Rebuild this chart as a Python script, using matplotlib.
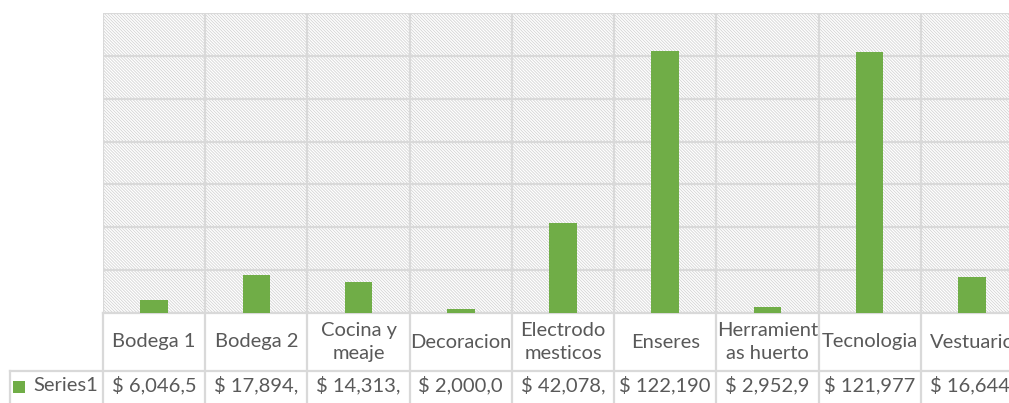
import matplotlib.pyplot as plt
from matplotlib.patches import Rectangle

# data
categories = ['Bodega 1', 'Bodega 2', 'Cocina y\nmeaje', 'Decoracion', 'Electrodo\nmesticos',
              'Enseres', 'Herramient\nas huerto', 'Tecnologia', 'Vestuario']
values = [6046.5, 17894, 14313, 2000, 42078, 122190, 2952.9, 121977, 16644]
value_labels = ['$ 6,046,5', '$ 17,894,', '$ 14,313,', '$ 2,000,0', '$ 42,078,',
                '$ 122,190', '$ 2,952,9', '$ 121,977', '$ 16,644,']
series_name = 'Series1'

green = '#70AD47'
grid = '#d9d9d9'
txt = '#595959'

plt.rcParams['font.family'] = ['Lato', 'DejaVu Sans']
plt.rcParams['hatch.linewidth'] = 0.6

fig = plt.figure(figsize=(10.09, 4.03), dpi=100)
W, H = 1009, 403
left, right, top, bottom = 103, 1023, 13, 313
ax = fig.add_axes([left / W, 1 - bottom / H, (right - left) / W, (bottom - top) / H])

n = len(categories)
x = list(range(n))
ax.bar(x, values, width=0.27, color=green, zorder=3)
ax.set_xlim(-0.5, n - 0.5)
ax.set_ylim(0, 140000)

# hatched plot area
ax.add_patch(Rectangle((0, 0), 1, 1, transform=ax.transAxes, facecolor='none',
                       edgecolor='#d4d4d4', hatch='\\' * 11, linewidth=0, zorder=0))

ax.set_yticks(range(0, 140001, 20000))
ax.set_xticks([i - 0.5 for i in range(n + 1)])
ax.tick_params(length=0, labelbottom=False, labelleft=False)
ax.grid(True, color=grid, linewidth=1.6, zorder=1)
for s in ax.spines.values():
    s.set_visible(False)

# data table below
tr = ax.get_xaxis_transform()
row_y = -(371 - bottom) / (bottom - top)
end_y = -(403 - bottom) / (bottom - top)
x_left = -0.5 - (left - 10) / ((right - left) / n)
lk = dict(color=grid, linewidth=1.6, transform=tr, clip_on=False)
for i in range(n + 1):
    ax.plot([i - 0.5, i - 0.5], [0, end_y], **lk)
ax.plot([-0.5, n - 0.5], [0, 0], **lk)
ax.plot([x_left, n - 0.5], [row_y, row_y], **lk)
ax.plot([x_left, x_left], [row_y, end_y], **lk)

fs = 14.5
for i, c in enumerate(categories):
    ax.text(i, row_y / 2, c, ha='center', va='center', fontsize=fs, color=txt,
            transform=tr, clip_on=False, linespacing=1.45)
    ax.text(i, (row_y + end_y) / 2 + 0.005, value_labels[i], ha='center', va='center',
            fontsize=fs, color=txt, transform=tr, clip_on=False)

key_x = x_left + 0.03
key_h = 12 / (bottom - top)
ax.add_patch(Rectangle((key_x, (row_y + end_y) / 2 - key_h / 2), 12 / 102.2, key_h,
                       transform=tr, facecolor=green, edgecolor='none', clip_on=False))
ax.text(key_x + 0.2, (row_y + end_y) / 2 + 0.005, series_name, ha='left', va='center',
        fontsize=fs, color=txt, transform=tr, clip_on=False)

fig.savefig('out.png', dpi=100)
